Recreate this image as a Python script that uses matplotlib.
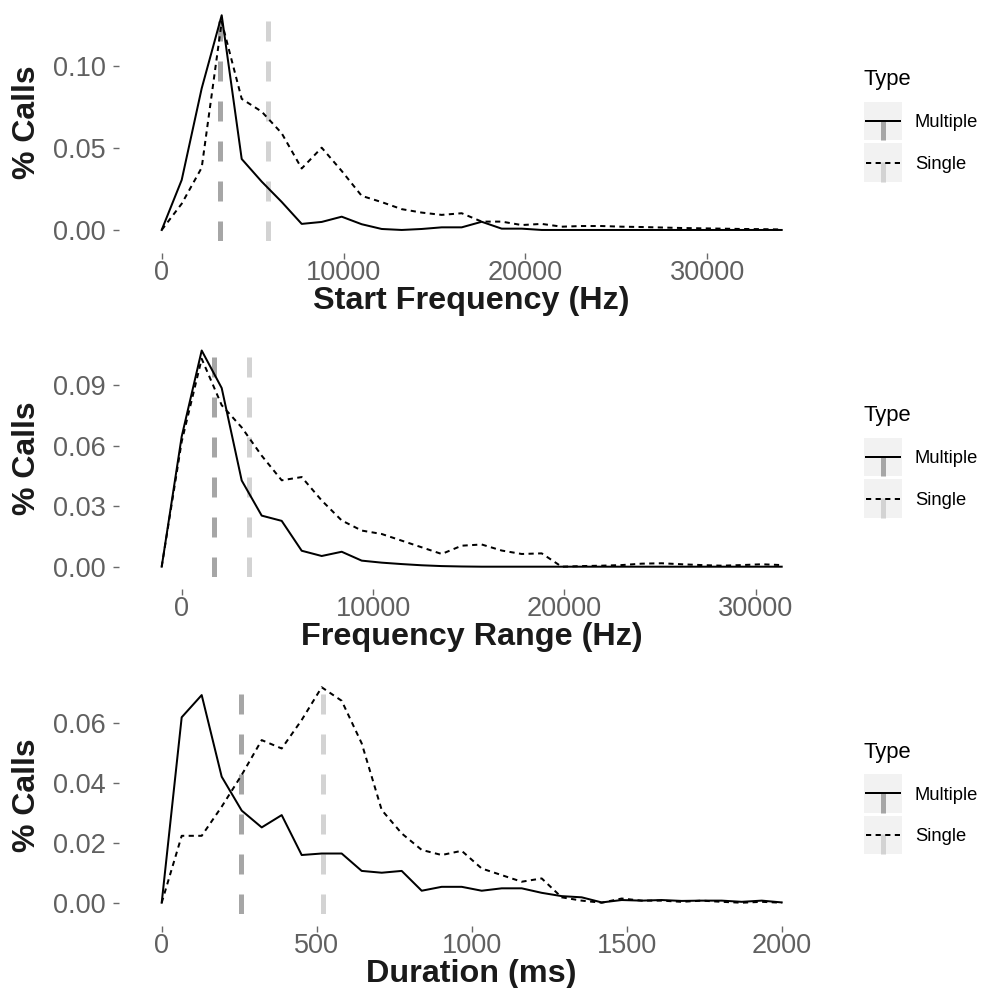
import matplotlib
matplotlib.use("Agg")
import matplotlib.pyplot as plt
from matplotlib.patches import Rectangle
from matplotlib.lines import Line2D

plt.rcParams['font.family'] = ['Liberation Sans', 'DejaVu Sans']

# ---------------- data ----------------
sf_x = [0, 1100, 2200, 3300, 4400, 5500, 6600, 7700, 8800, 9900, 11000, 12100,
        13200, 14300, 15400, 16500, 17600, 18700, 19800, 20900, 22000, 23100,
        24200, 25300, 26400, 27500, 28600, 29700, 30800, 31900, 33000, 34100]
sf_multiple = [0, 0.0305, 0.0864, 0.131, 0.0433, 0.0295, 0.0171, 0.0037, 0.0049,
               0.0081, 0.0035, 0.0006, 0.0, 0.0006, 0.0016, 0.0016, 0.005, 0.0008,
               0.0008, 0, 0, 0, 0, 0, 0, 0, 0, 0, 0, 0, 0, 0]
sf_single = [0, 0.016, 0.038, 0.127, 0.080, 0.0722, 0.059, 0.0375, 0.0502, 0.036,
             0.0208, 0.017, 0.0127, 0.0106, 0.0092, 0.0102, 0.0051, 0.0051, 0.003,
             0.0037, 0.002, 0.0024, 0.0024, 0.002, 0.0018, 0.0015, 0.0012, 0.001,
             0.0008, 0.0006, 0.0005, 0.0003]
sf_vlines = [3200, 5860]          # Multiple, Single

fr_x = [-1045, 0, 1045, 2090, 3135, 4180, 5225, 6270, 7315, 8360, 9405, 10450,
        11495, 12540, 13585, 14630, 15675, 16720, 17765, 18810, 19855, 20900,
        21945, 22990, 24035, 25080, 26125, 27170, 28215, 29260, 30305, 31350]
fr_multiple = [0, 0.0645, 0.1071, 0.0885, 0.0427, 0.0253, 0.0227, 0.0079, 0.0053,
               0.0074, 0.003, 0.002, 0.0013, 0.0007, 0.0003, 0.0001, 0, 0, 0, 0,
               0, 0, 0, 0, 0, 0, 0, 0, 0, 0, 0, 0]
fr_single = [0, 0.062, 0.103, 0.080, 0.069, 0.055, 0.0428, 0.0444, 0.0328, 0.0229,
             0.0179, 0.0162, 0.0129, 0.0096, 0.0063, 0.0104, 0.011, 0.008, 0.0063,
             0.0066, 0.0, 0.0003, 0.0005, 0.0008, 0.0015, 0.0017, 0.0012, 0.0008,
             0.0005, 0.0008, 0.0012, 0.0008]
fr_vlines = [1680, 3525]

du_x = [0, 64.5, 129.0, 193.5, 258.1, 322.6, 387.1, 451.6, 516.1, 580.6, 645.2,
        709.7, 774.2, 838.7, 903.2, 967.7, 1032.3, 1096.8, 1161.3, 1225.8, 1290.3,
        1354.8, 1419.4, 1483.9, 1548.4, 1612.9, 1677.4, 1741.9, 1806.5, 1871.0,
        1935.5, 2000.0]
du_multiple = [0, 0.0618, 0.0692, 0.042, 0.0307, 0.0251, 0.0292, 0.0159, 0.0164,
               0.0164, 0.0106, 0.010, 0.0106, 0.004, 0.0053, 0.0053, 0.004, 0.0048,
               0.0048, 0.0033, 0.0022, 0.0018, 0.0001, 0.0009, 0.0007, 0.0009,
               0.0006, 0.0007, 0.0007, 0.0003, 0.0007, 0.0001]
du_single = [0, 0.0223, 0.0223, 0.032, 0.0426, 0.0542, 0.0514, 0.0609, 0.0718,
             0.0673, 0.0531, 0.0309, 0.0231, 0.0176, 0.0159, 0.0173, 0.0114, 0.0092,
             0.007, 0.0081, 0.0018, 0.0007, 0, 0.0014, 0.0007, 0.0007, 0.0003,
             0.0007, 0.0003, 0, 0.0003, 0]
du_vlines = [256, 520]

types = ["Multiple", "Single"]
x_titles = ["Start Frequency (Hz)", "Frequency Range (Hz)", "Duration (ms)"]
y_title = "% Calls"
x_ticks = [[0, 10000, 20000, 30000], [0, 10000, 20000, 30000], [0, 500, 1000, 1500, 2000]]
y_ticks = [[0.00, 0.05, 0.10], [0.00, 0.03, 0.06, 0.09], [0.00, 0.02, 0.04, 0.06]]

# ---------------- style ----------------
W, H = 1000, 988
fig = plt.figure(figsize=(W / 100, H / 100), dpi=100)
PX = 72 / 100.0  # points per pixel

vcol = ["#A6A6A6", "#D3D3D3"]
lstyles = ["-", (0, (2.6, 2.2))]
line_lw = 2.0 * PX
vline_lw = 5.0 * PX
tick_col = "#6A6A6A"

panels = [
    (sf_x, sf_multiple, sf_single, sf_vlines, 4.5, 240.7),
    (fr_x, fr_multiple, fr_single, fr_vlines, 339.7, 577.5),
    (du_x, du_multiple, du_single, du_vlines, 676.5, 913.5),
]
left_px, right_px = 130.7, 812.7

ov = fig.add_axes([0, 0, 1, 1], zorder=10)
ov.set_xlim(0, W)
ov.set_ylim(H, 0)
ov.axis("off")

for i, (xs, ym, ys, vl, top, bot) in enumerate(panels):
    ax = fig.add_axes([left_px / W, 1 - bot / H, (right_px - left_px) / W, (bot - top) / H])
    for v, c in zip(vl, vcol):
        ax.axvline(v, color=c, lw=vline_lw, ls=(0, (4, 4)), zorder=1)
    ax.plot(xs, ym, color="black", lw=line_lw, ls=lstyles[0], zorder=3)
    ax.plot(xs, ys, color="black", lw=line_lw, ls=lstyles[1], zorder=3)
    xr = max(xs) - min(xs)
    ax.set_xlim(min(xs) - 0.05 * xr, max(xs) + 0.05 * xr)
    ymax = max(max(ym), max(ys))
    ax.set_ylim(-0.05 * ymax, ymax * 1.05)
    ax.set_xticks(x_ticks[i])
    ax.set_xticklabels([str(t) for t in x_ticks[i]])
    ax.set_yticks(y_ticks[i])
    ax.set_yticklabels(["%.2f" % t for t in y_ticks[i]])
    for s in ax.spines.values():
        s.set_visible(False)
    ax.spines["left"].set_position(("outward", 11.7 * PX))
    ax.spines["bottom"].set_position(("outward", 12 * PX))
    ax.tick_params(axis="both", direction="out", length=6 * PX, width=1.0,
                   color=tick_col, labelcolor="#606060", labelsize=19.5)
    ax.tick_params(axis="y", pad=7 * PX)
    ax.tick_params(axis="x", pad=1 * PX)
    ax.patch.set_visible(False)
    ax.set_xlabel(x_titles[i], fontsize=23.3, fontweight="bold", color="#1A1A1A")
    ax.xaxis.label.set_va("top")
    ax.xaxis.set_label_coords(0.5, -(bot + 45 - bot) / (bot - top))
    ax.set_ylabel(y_title, fontsize=23, fontweight="bold", color="#1A1A1A")
    ax.yaxis.set_label_coords((41.7 - left_px) / (right_px - left_px), 0.5)

    # ---- legend (drawn in pixel coordinates) ----
    c = (top + bot) / 2.0
    ov.text(864, c - 37.5, "Type", fontsize=15.8, color="black", va="baseline", ha="left")
    for k in range(2):
        by0 = c - 20.8 + k * 41.6
        by1 = by0 + 38.3
        ov.add_patch(Rectangle((864, by0), 38, 38.3, facecolor="#F2F2F2", edgecolor="none"))
        ov.add_line(Line2D([883, 883], [by1, by0], color=vcol[k], lw=vline_lw,
                           ls=(0, (4, 4)), solid_capstyle="butt"))
        ym_ = (by0 + by1) / 2
        ov.add_line(Line2D([866, 900], [ym_, ym_], color="black", lw=line_lw, ls=lstyles[k]))
        ov.text(915, ym_ + 6.5, types[k], fontsize=13.2, color="black", va="baseline", ha="left")

fig.savefig("out.png", dpi=100)
